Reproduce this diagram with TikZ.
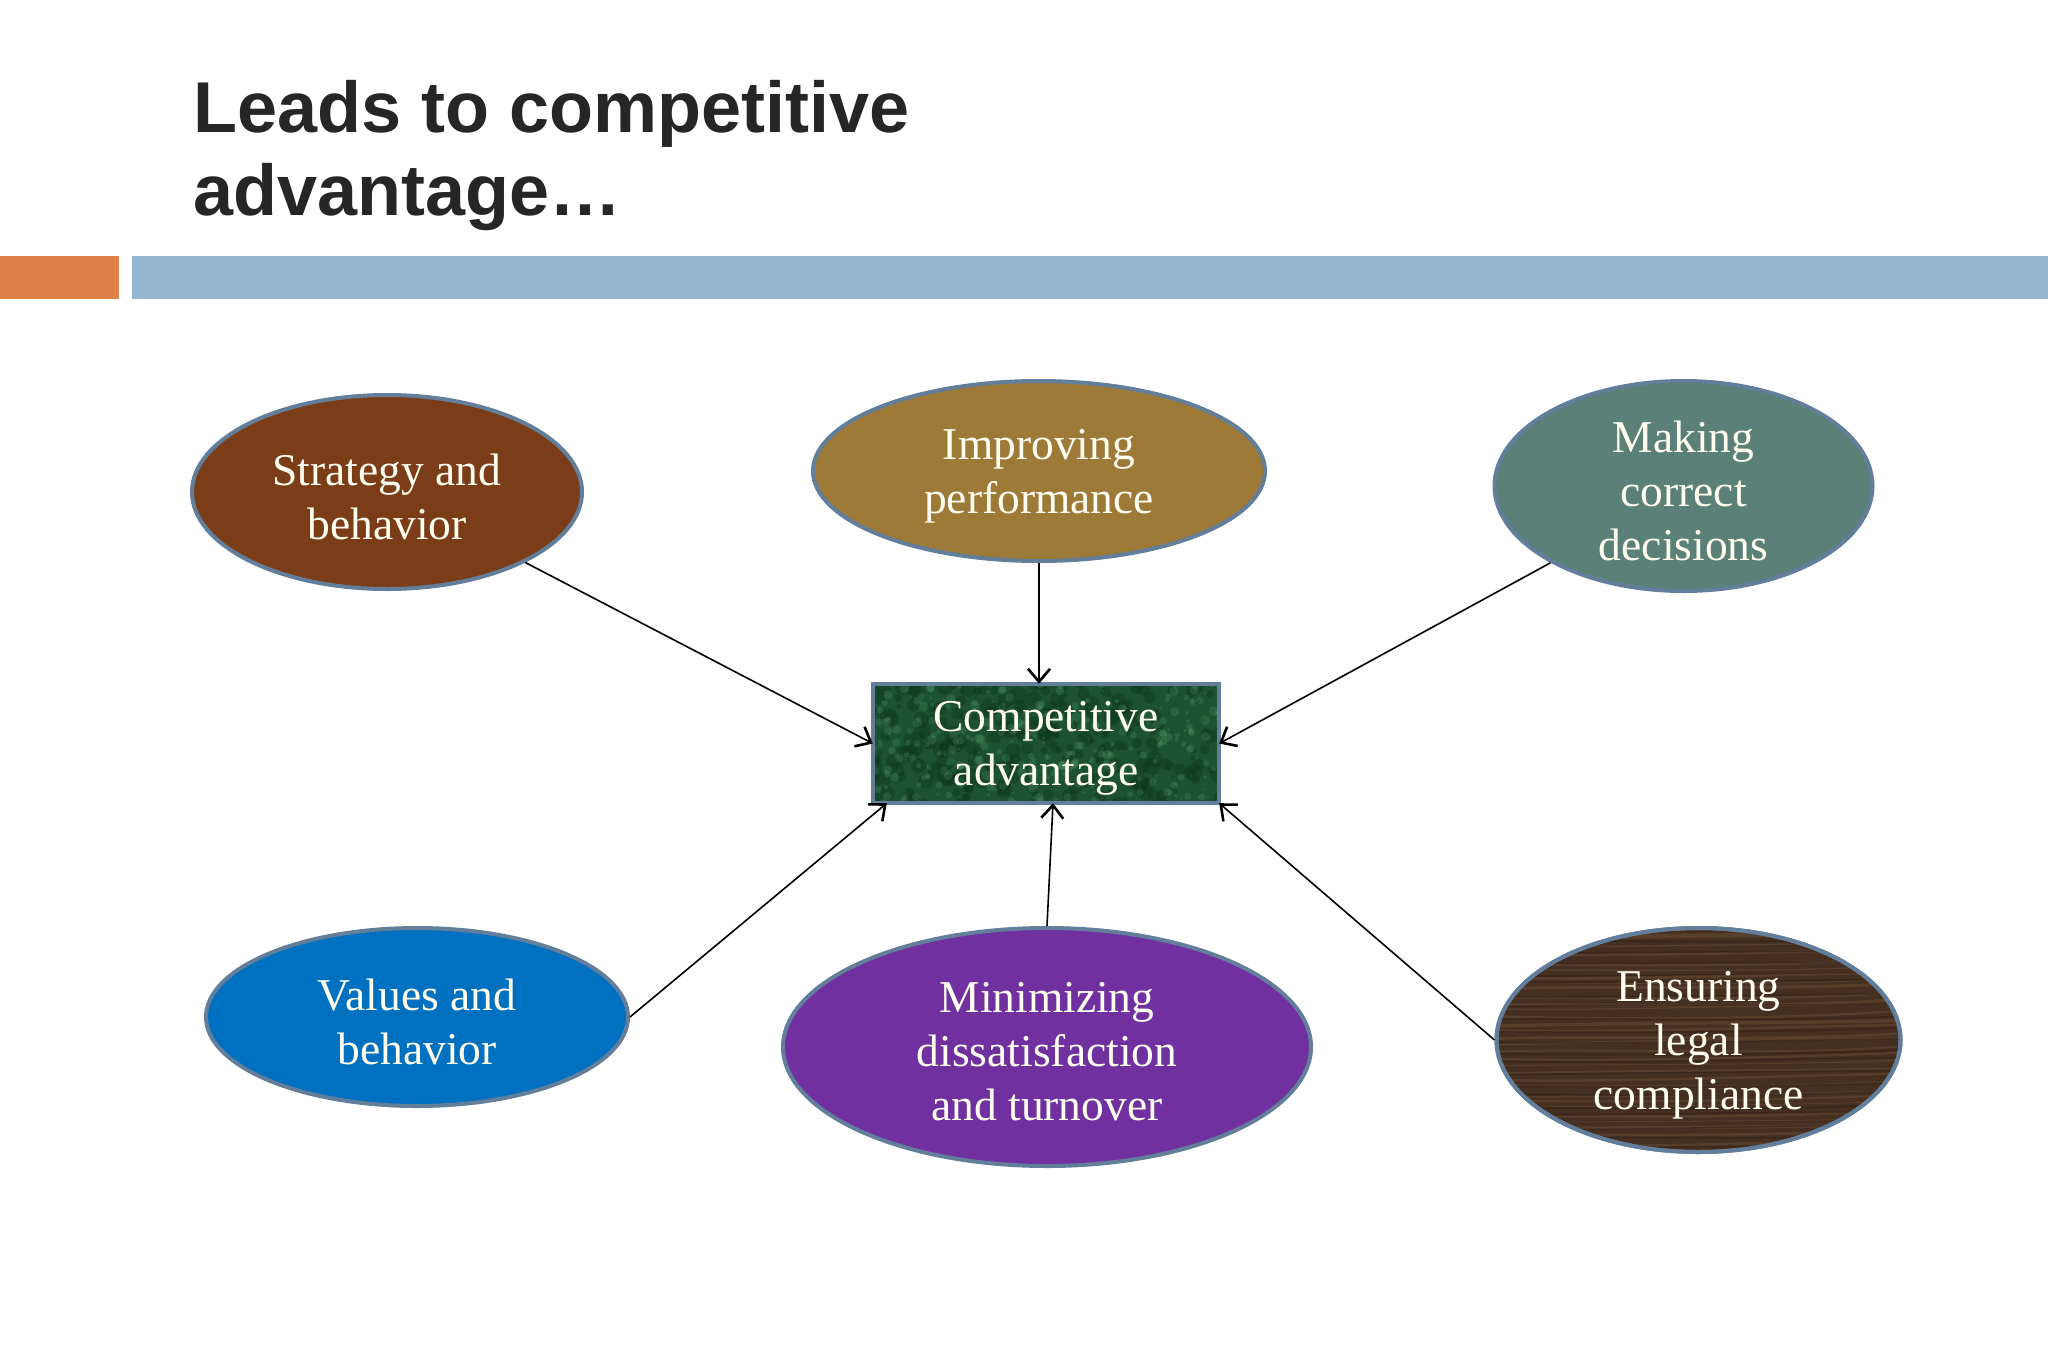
\documentclass[tikz,border=0pt]{standalone}
\usepackage{fontspec}
\setmainfont{Liberation Serif}
\newfontfamily\titlefont{Liberation Sans}
\usetikzlibrary{shapes.geometric,arrows.meta}
\definecolor{titlegray}{RGB}{38,38,38}
\definecolor{barorange}{RGB}{221,128,71}
\definecolor{barblue}{RGB}{148,182,208}
\definecolor{ovalborder}{RGB}{98,126,155}
\definecolor{cStrategy}{RGB}{122,61,24}
\definecolor{cImprove}{RGB}{158,122,56}
\definecolor{cMaking}{RGB}{90,128,120}
\definecolor{cValues}{RGB}{0,112,192}
\definecolor{cMinim}{RGB}{112,48,160}
\definecolor{cWood}{RGB}{68,47,32}
\definecolor{cWoodLight}{RGB}{112,82,58}
\definecolor{cWoodDark}{RGB}{45,30,20}
\definecolor{cMarble}{RGB}{28,82,48}
\definecolor{cMarbleLight}{RGB}{96,165,115}
\definecolor{cMarbleDark}{RGB}{12,50,28}
\definecolor{lbltext}{RGB}{255,253,240}
\begin{document}
\begin{tikzpicture}[x=1pt,y=-1pt,
  oval/.style={ellipse, draw=ovalborder, line width=4pt, inner sep=0pt},
  border/.style={draw=ovalborder, line width=4pt},
  lbl/.style={text=lbltext, font=\fontsize{45.5}{54}\selectfont, align=center, inner sep=0pt, yshift=-5pt},
  ttl/.style={text=titlegray, font=\titlefont\bfseries\fontsize{72}{83}\selectfont, anchor=base west, inner sep=0pt},
  conn/.style={line width=1.6pt, -{Straight Barb[length=13pt,width=22pt,line width=2.6pt]}}]
\useasboundingbox (0,0) rectangle (2048,1366);
\fill[white] (0,0) rectangle (2048,1366);

% title
\node[ttl] (title1) at (193,132) {Leads to competitive};
\node[ttl] (title2) at (193,215) {advantage\dots};

% bars
\fill[barorange] (0,256) rectangle (119,299);
\fill[barblue] (132,256) rectangle (2048,299);

% ovals
\node[oval, fill=cStrategy, minimum width=390pt, minimum height=194pt] (s1) at (387,492) {};
\node[oval, fill=cImprove, minimum width=452pt, minimum height=180pt] (s2) at (1039,471) {};
\node[oval, fill=cMaking, minimum width=378pt, minimum height=210pt] (s3) at (1683.5,486) {};
\node[oval, fill=cValues, minimum width=422pt, minimum height=178pt] (s4) at (417,1017) {};
\node[oval, fill=cMinim, minimum width=528pt, minimum height=238pt] (s5) at (1047,1047) {};
\node[oval, fill=cWood, minimum width=404pt, minimum height=224pt] (s6) at (1698.5,1040) {};

% wood texture
\begin{scope}
  \clip (s6.center) ellipse [x radius=202, y radius=112];
  \pgfmathsetseed{7}
  \foreach \i in {0,...,34}{
    \pgfmathsetmacro\yy{925+\i*7+4*rnd}
    \pgfmathsetmacro\lw{0.8+2.5*rnd}
    \draw[cWoodLight, opacity=0.45, line width=\lw pt]
      (1490,\yy) .. controls ({1600},{\yy+10*rnd-5}) and ({1780},{\yy+10*rnd-5}) .. (1910,{\yy-6});
  }
  \foreach \i in {0,...,20}{
    \pgfmathsetmacro\yy{928+\i*11+5*rnd}
    \draw[cWoodDark, opacity=0.5, line width=1.5pt]
      (1490,\yy) .. controls ({1620},{\yy+8*rnd-4}) and ({1760},{\yy+8*rnd-4}) .. (1910,{\yy-4});
  }
\end{scope}
\draw[border] (s6.center) ellipse [x radius=202, y radius=112];

% central box
\node[fill=cMarble, minimum width=346pt, minimum height=119pt, inner sep=0pt] (cb) at (1046,743.5) {};
\begin{scope}
  \clip (cb.south west) rectangle (cb.north east);
  \pgfmathsetseed{11}
  \foreach \i in {1,...,260}{
    \fill[cMarbleDark, opacity=0.35] ({871+350*rnd},{682+123*rnd}) circle [radius={2+7*rnd}];
  }
  \foreach \i in {1,...,320}{
    \fill[cMarbleLight, opacity=0.22] ({871+350*rnd},{682+123*rnd}) circle [radius={1+4*rnd}];
  }
\end{scope}
\draw[border] (cb.south west) rectangle (cb.north east);

% labels
\node[lbl] (t1) at (s1) {Strategy and\\behavior};
\node[lbl] (t2) at (s2) {Improving\\performance};
\node[lbl] (t3) at (s3) {Making\\correct\\decisions};
\node[lbl] (t4) at (s4) {Values and\\behavior};
\node[lbl] (t5) at (s5) {Minimizing\\dissatisfaction\\and turnover};
\node[lbl] (t6) at (s6) {Ensuring\\legal\\compliance};
\node[lbl] (tc) at (cb) {Competitive\\advantage};

% connectors
\draw[conn] (s1.-27) -- (cb.west);
\draw[conn] (s2.south) -- (cb.north -| s2.south);
\draw[conn] (s3.-150.5) -- (cb.east);
\draw[conn] (s4.east) -- ([xshift=14pt]cb.south west);
\draw[conn] (s5.north) -- ([xshift=7pt]cb.south);
\draw[conn] (s6.west) -- (cb.south east);
\end{tikzpicture}
\end{document}
